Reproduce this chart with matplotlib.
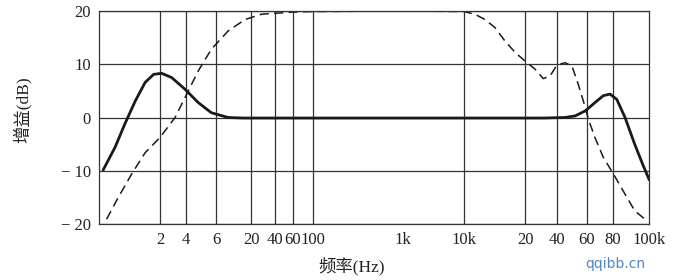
import numpy as np
import matplotlib
matplotlib.use('Agg')
import matplotlib.pyplot as plt

# frequency axis of the original figure is not a plain log scale:
# each labelled grid line sits at its own place along the axis
tick_freqs = [1, 2, 4, 6, 20, 40, 60, 100, 1000, 10000, 20000, 40000, 60000, 80000, 100000]
tick_pos = [0, 61, 87, 117, 152, 176, 194, 214, 304, 365, 426, 458, 488, 514, 550]
tick_labels = ['', '2', '4', '6', '20', '40', '60', '100', '1k', '10k', '20', '40', '60', '80', '100k']
grid_freqs = [2, 4, 6, 20, 40, 60, 100, 10000, 20000, 40000, 60000, 80000]

# solid curve
solid_f = [1.05, 1.2, 1.34, 1.51, 1.69, 1.86, 2.09, 2.73, 3.9, 4.72, 5.63, 9.1, 15,
           100, 1000, 10000, 30000, 44500, 51100, 58700, 65500, 71900, 77400,
           81900, 86200, 91500, 96100, 100000]
solid_db = [-9.8, -5.6, -1.25, 3.1, 6.6, 8.1, 8.3, 7.5, 5.3, 2.8, 0.9, 0.0, -0.1,
            -0.1, -0.1, -0.1, -0.1, 0.0, 0.3, 1.25, 2.8, 4.1, 4.4,
            3.4, 0.0, -5.0, -8.75, -11.6]

# dashed curve
dash_f = [1.09, 1.245, 1.45, 1.69, 2.0, 2.99, 4.04, 4.72, 5.63, 9.1, 16.3, 27.2,
          60, 100, 1000, 10000, 11300, 12700, 14200, 15900, 17900, 20000, 24800,
          29700, 34400, 39800, 44500, 48900, 53300, 57100, 60900, 65500, 71900,
          80200, 86200, 91500, 98100]
dash_db = [-19.1, -15.0, -10.6, -6.6, -3.75, 0.0, 4.4, 8.75, 12.8, 16.25, 18.4, 19.4,
           19.8, 19.9, 20.0, 19.9, 19.4, 18.4, 16.9, 14.4, 12.2, 10.6, 9.1,
           7.3, 7.8, 9.8, 10.3, 9.7, 6.25, 3.1, -0.3, -3.75, -7.5,
           -10.6, -14.4, -17.5, -19.25]

y_ticks = [-20, -10, 0, 10, 20]
y_labels = ['\u2212 20', '\u2212 10', '0', '10', '20']

logf = np.log10(tick_freqs)


def fwd(f):
    f = np.clip(np.asarray(f, dtype=float), 1e-3, None)
    return np.interp(np.log10(f), logf, tick_pos, left=-1, right=551)


def inv(p):
    return 10 ** np.interp(np.asarray(p, dtype=float), tick_pos, logf)


serif = ['Liberation Serif', 'DejaVu Serif']
mixed = ['Liberation Serif', 'Noto Sans CJK SC']

fig = plt.figure(figsize=(6.8, 2.8), dpi=100)
ax = fig.add_axes([99 / 680, 1 - 224 / 280, 550 / 680, 213 / 280])
ax.set_xscale('function', functions=(fwd, inv))

ax.plot(solid_f, solid_db, color='#1a1a1a', lw=2.0, solid_joinstyle='round')
ax.plot(dash_f, dash_db, color='#1a1a1a', lw=1.1, dashes=(6, 3.5))

for g in grid_freqs:
    ax.axvline(g, color='#333333', lw=0.9, zorder=0)
for yv in y_ticks:
    ax.axhline(yv, color='#333333', lw=0.9, zorder=0)

ax.set_xlim(1, 100000)
ax.set_ylim(-20, 20)
ax.set_xticks(tick_freqs[1:])
ax.set_xticklabels(tick_labels[1:], family=serif, fontsize=12)
ax.minorticks_off()
ax.set_yticks(y_ticks)
ax.set_yticklabels(y_labels, family=serif, fontsize=12)
ax.tick_params(length=0, pad=6, colors='#222222')
for s in ax.spines.values():
    s.set_color('#333333')
    s.set_linewidth(0.9)

fig.text(352 / 680, 1 - 266 / 280, '频率(Hz)', family=mixed, fontsize=12.5,
         ha='center', va='center', color='#222222')
fig.text(22 / 680, 1 - 110 / 280, '增益(dB)', family=mixed, fontsize=12.5,
         rotation=90, ha='center', va='center', color='#222222')
fig.text(615 / 680, 1 - 264 / 280, 'qqibb.cn', family=['DejaVu Sans'], fontsize=10,
         ha='center', va='center', color='#4f86c6')

fig.savefig('out.png', dpi=100)
